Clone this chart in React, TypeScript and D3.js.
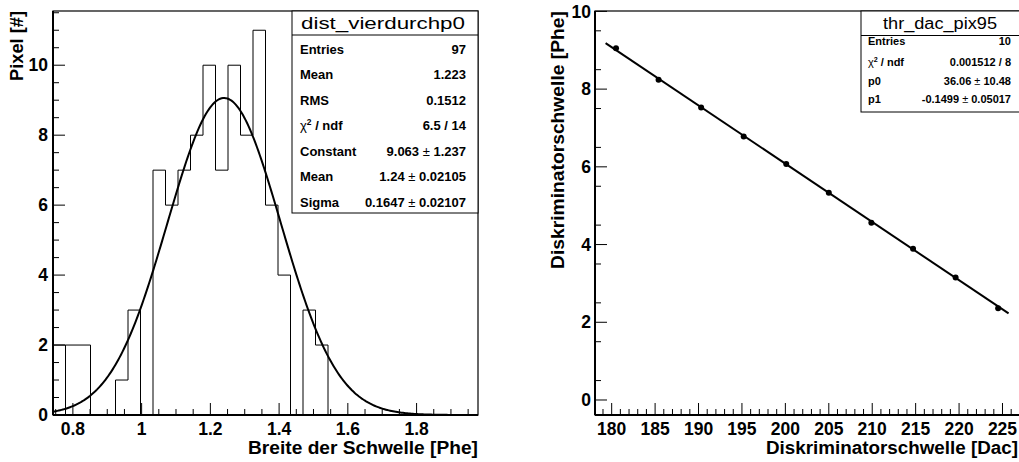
import React from "react";
import * as d3 from "d3";

// ---------- Left: histogram data ----------
const histTitle = "dist_vierdurchp0";
const histStart = 0.7785; // lower edge of first bin
const histBinWidth = 0.03637;
const histCounts = [2, 2, 0, 0, 1, 3, 0, 7, 6, 7, 8, 10, 7, 10, 8, 11, 6, 4, 0, 3, 2, 0, 0, 0, 0, 0, 0, 0, 0, 0, 0, 0, 0];
const histXTicks = [0.8, 1, 1.2, 1.4, 1.6, 1.8];
const histYTicks = [0, 2, 4, 6, 8, 10];
const gausParams = [9.063, 1.24, 0.1647]; // constant, mean, sigma
const histStatLabels = ["Entries", "Mean", "RMS", "χ2 / ndf", "Constant", "Mean", "Sigma"];
const histStatValues = ["97", "1.223", "0.1512", "6.5 / 14", "9.063 ± 1.237", "1.24 ± 0.02105", "0.1647 ± 0.02107"];

// ---------- Right: graph data ----------
const graphTitle = "thr_dac_pix95";
const dacValues = [180.5, 185.4, 190.3, 195.2, 200.1, 205.0, 209.9, 214.7, 219.6, 224.5];
const pheValues = [9.05, 8.24, 7.53, 6.78, 6.07, 5.33, 4.56, 3.89, 3.15, 2.36];
const lineParams = [36.06, -0.1499]; // p0, p1
const lineRange = [179.3, 225.7];
const graphXTicks = [180, 185, 190, 195, 200, 205, 210, 215, 220, 225];
const graphYTicks = [0, 2, 4, 6, 8, 10];
const graphStatLabels = ["Entries", "χ2 / ndf", "p0", "p1"];
const graphStatValues = ["10", "0.001512 / 8", "36.06 ± 10.48", "-0.1499 ± 0.05017"];

const FONT = "'Liberation Sans', Arial, Helvetica, sans-serif";

function ValueText({ text, x, y, size }: { text: string; x: number; y: number; size: number }) {
  const parts = text.split("±");
  return (
    <text x={x} y={y} textAnchor="end" fontSize={size} fontWeight="bold" fontFamily={FONT}>
      {parts.length === 2 ? (
        <>
          {parts[0]}
          <tspan fontWeight="normal">±</tspan>
          {parts[1]}
        </>
      ) : (
        text
      )}
    </text>
  );
}

function LabelText({ text, x, y, size }: { text: string; x: number; y: number; size: number }) {
  if (text.startsWith("χ2")) {
    return (
      <text x={x} y={y} fontSize={size} fontWeight="bold" fontFamily={FONT}>
        <tspan fontWeight="normal">χ</tspan>
        <tspan dy={-size * 0.4} fontSize={size * 0.65}>2</tspan>
        <tspan dy={size * 0.4}>{text.slice(2)}</tspan>
      </text>
    );
  }
  return (
    <text x={x} y={y} fontSize={size} fontWeight="bold" fontFamily={FONT}>
      {text}
    </text>
  );
}

export default function App() {
  // ----- left plot scales -----
  const L = { left: 53, right: 478, top: 11, bottom: 415 };
  const xL = d3.scaleLinear().domain([histStart - histBinWidth, histStart + histBinWidth * histCounts.length]).range([L.left, L.right]);
  const yL = d3.scaleLinear().domain([0, 11.55]).range([L.bottom, L.top]);

  // histogram outline
  let hp = `M${xL(xL.domain()[0])},${yL(histCounts[0])}L${xL(histStart)},${yL(histCounts[0])}`;
  hp += `M${xL(histStart)},${yL(0)}`;
  histCounts.forEach((c, i) => {
    const x0 = xL(histStart + i * histBinWidth);
    const x1 = xL(histStart + (i + 1) * histBinWidth);
    hp += `L${x0},${yL(c)}L${x1},${yL(c)}`;
  });
  hp += `L${xL(histStart + histCounts.length * histBinWidth)},${yL(0)}`;

  const [gA, gM, gS] = gausParams;
  const gx = d3.range(0, 301).map((i) => xL.domain()[0] + (i / 300) * (xL.domain()[1] - xL.domain()[0]));
  const gauss = d3
    .line<number>()
    .x((x) => xL(x))
    .y((x) => yL(gA * Math.exp(-0.5 * ((x - gM) / gS) ** 2)))(gx);

  const xLMinor = d3.range(0.75, 1.9751, 0.05).filter((v) => !histXTicks.some((t) => Math.abs(t - v) < 1e-6));
  const yLMinor = d3.range(0.5, 11.55, 0.5).filter((v) => Math.abs(v % 2) > 1e-6);

  // ----- right plot scales -----
  const R = { left: 595, right: 1019, top: 11, bottom: 415 };
  const xR = d3.scaleLinear().domain([178.08, 226.9]).range([R.left, R.right]);
  const yR = d3.scaleLinear().domain([-0.386, 10.01]).range([R.bottom, R.top]);
  const xRMinor = d3.range(179, 227, 1).filter((v) => v % 5 !== 0);
  const yRMinor = d3.range(0.5, 10, 1);
  const fitLine = d3
    .line<number>()
    .x((x) => xR(x))
    .y((x) => yR(lineParams[0] + lineParams[1] * x))(lineRange);

  const tickFont = 17.5;

  return (
    <svg width={1019} height={462} style={{ position: "absolute", left: 0, top: 0, background: "#fff" }}>
      <rect width={1019} height={462} fill="#fff" />
      {/* ============ LEFT PLOT ============ */}
      <g>
        <rect x={L.left} y={L.top} width={L.right - L.left} height={L.bottom - L.top} fill="none" stroke="#000" strokeWidth={1.2} />
        <path d={hp} fill="none" stroke="#000" strokeWidth={1} />
        <path d={gauss || ""} fill="none" stroke="#000" strokeWidth={2} />
        <line x1={L.left} x2={L.left} y1={L.top} y2={L.bottom} stroke="#000" strokeWidth={2} />
        <line x1={L.left} x2={L.right} y1={L.bottom} y2={L.bottom} stroke="#000" strokeWidth={2} />
        {histYTicks.map((t) => (
          <g key={"ly" + t}>
            <line x1={L.left} x2={L.left + 12} y1={yL(t)} y2={yL(t)} stroke="#000" strokeWidth={1} />
            <text x={48} y={yL(t) + 6.2} textAnchor="end" fontSize={tickFont} fontWeight="bold" fontFamily={FONT}>
              {t}
            </text>
          </g>
        ))}
        {yLMinor.map((t) => (
          <line key={"lym" + t} x1={L.left} x2={L.left + 6} y1={yL(t)} y2={yL(t)} stroke="#000" strokeWidth={1} />
        ))}
        {histXTicks.map((t) => (
          <g key={"lx" + t}>
            <line x1={xL(t)} x2={xL(t)} y1={L.bottom} y2={L.bottom - 12} stroke="#000" strokeWidth={1} />
            <text x={xL(t)} y={434.5} textAnchor="middle" fontSize={tickFont} fontWeight="bold" fontFamily={FONT}>
              {d3.format("")(t)}
            </text>
          </g>
        ))}
        {xLMinor.map((t) => (
          <line key={"lxm" + t} x1={xL(t)} x2={xL(t)} y1={L.bottom} y2={L.bottom - 6} stroke="#000" strokeWidth={1} />
        ))}
        <text x={478} y={454} textAnchor="end" fontSize={18} fontWeight="bold" fontFamily={FONT} textLength={230} lengthAdjust="spacingAndGlyphs">
          Breite der Schwelle [Phe]
        </text>
        <text transform="translate(23,11) rotate(-90)" textAnchor="end" fontSize={18} fontWeight="bold" fontFamily={FONT} textLength={70} lengthAdjust="spacingAndGlyphs">
          Pixel [#]
        </text>
        <rect x={292} y={11} width={186} height={202} fill="#fff" stroke="#000" strokeWidth={1} />
        <line x1={292} x2={478} y1={35} y2={35} stroke="#000" strokeWidth={1} />
        <text x={383} y={29} textAnchor="middle" fontSize={17} fontFamily={FONT} textLength={164} lengthAdjust="spacingAndGlyphs">
          {histTitle}
        </text>
        {histStatLabels.map((lab, i) => (
          <g key={"hs" + i}>
            <LabelText text={lab} x={300} y={53.8 + i * 25.5} size={13} />
            <ValueText text={histStatValues[i]} x={466} y={53.8 + i * 25.5} size={13} />
          </g>
        ))}
      </g>

      {/* ============ RIGHT PLOT ============ */}
      <g>
        <rect x={R.left} y={R.top} width={R.right - R.left + 2} height={R.bottom - R.top} fill="none" stroke="#000" strokeWidth={1.2} />
        <path d={fitLine || ""} fill="none" stroke="#000" strokeWidth={2} />
        {dacValues.map((x, i) => (
          <circle key={"pt" + i} cx={xR(x)} cy={yR(pheValues[i])} r={3} fill="#000" />
        ))}
        <line x1={R.left} x2={R.left} y1={R.top} y2={R.bottom} stroke="#000" strokeWidth={2} />
        <line x1={R.left} x2={R.right} y1={R.bottom} y2={R.bottom} stroke="#000" strokeWidth={2} />
        {graphYTicks.map((t) => (
          <g key={"ry" + t}>
            <line x1={R.left} x2={R.left + 12} y1={yR(t)} y2={yR(t)} stroke="#000" strokeWidth={1} />
            <text x={591} y={yR(t) + 6.2} textAnchor="end" fontSize={tickFont} fontWeight="bold" fontFamily={FONT}>
              {t}
            </text>
          </g>
        ))}
        {yRMinor.map((t) => (
          <line key={"rym" + t} x1={R.left} x2={R.left + 6} y1={yR(t)} y2={yR(t)} stroke="#000" strokeWidth={1} />
        ))}
        {graphXTicks.map((t) => (
          <g key={"rx" + t}>
            <line x1={xR(t)} x2={xR(t)} y1={R.bottom} y2={R.bottom - 12} stroke="#000" strokeWidth={1} />
            <text x={xR(t)} y={434.5} textAnchor="middle" fontSize={tickFont} fontWeight="bold" fontFamily={FONT}>
              {t}
            </text>
          </g>
        ))}
        {xRMinor.map((t) => (
          <line key={"rxm" + t} x1={xR(t)} x2={xR(t)} y1={R.bottom} y2={R.bottom - 6} stroke="#000" strokeWidth={1} />
        ))}
        <text x={1018} y={454} textAnchor="end" fontSize={18} fontWeight="bold" fontFamily={FONT} textLength={252} lengthAdjust="spacingAndGlyphs">
          Diskriminatorschwelle [Dac]
        </text>
        <text transform="translate(564,11) rotate(-90)" textAnchor="end" fontSize={18} fontWeight="bold" fontFamily={FONT} textLength={258} lengthAdjust="spacingAndGlyphs">
          Diskriminatorschwelle [Phe]
        </text>
        <rect x={861} y={11} width={160} height={101} fill="#fff" stroke="#000" strokeWidth={1} />
        <line x1={861} x2={1019} y1={35.5} y2={35.5} stroke="#000" strokeWidth={1} />
        <text x={940} y={29} textAnchor="middle" fontSize={16} fontFamily={FONT} textLength={114} lengthAdjust="spacingAndGlyphs">
          {graphTitle}
        </text>
        {graphStatLabels.map((lab, i) => (
          <g key={"gs" + i}>
            <LabelText text={lab} x={868} y={[44.5, 66, 84.5, 103][i]} size={11} />
            <ValueText text={graphStatValues[i]} x={1011} y={[44.5, 66, 84.5, 103][i]} size={11} />
          </g>
        ))}
      </g>
    </svg>
  );
}
